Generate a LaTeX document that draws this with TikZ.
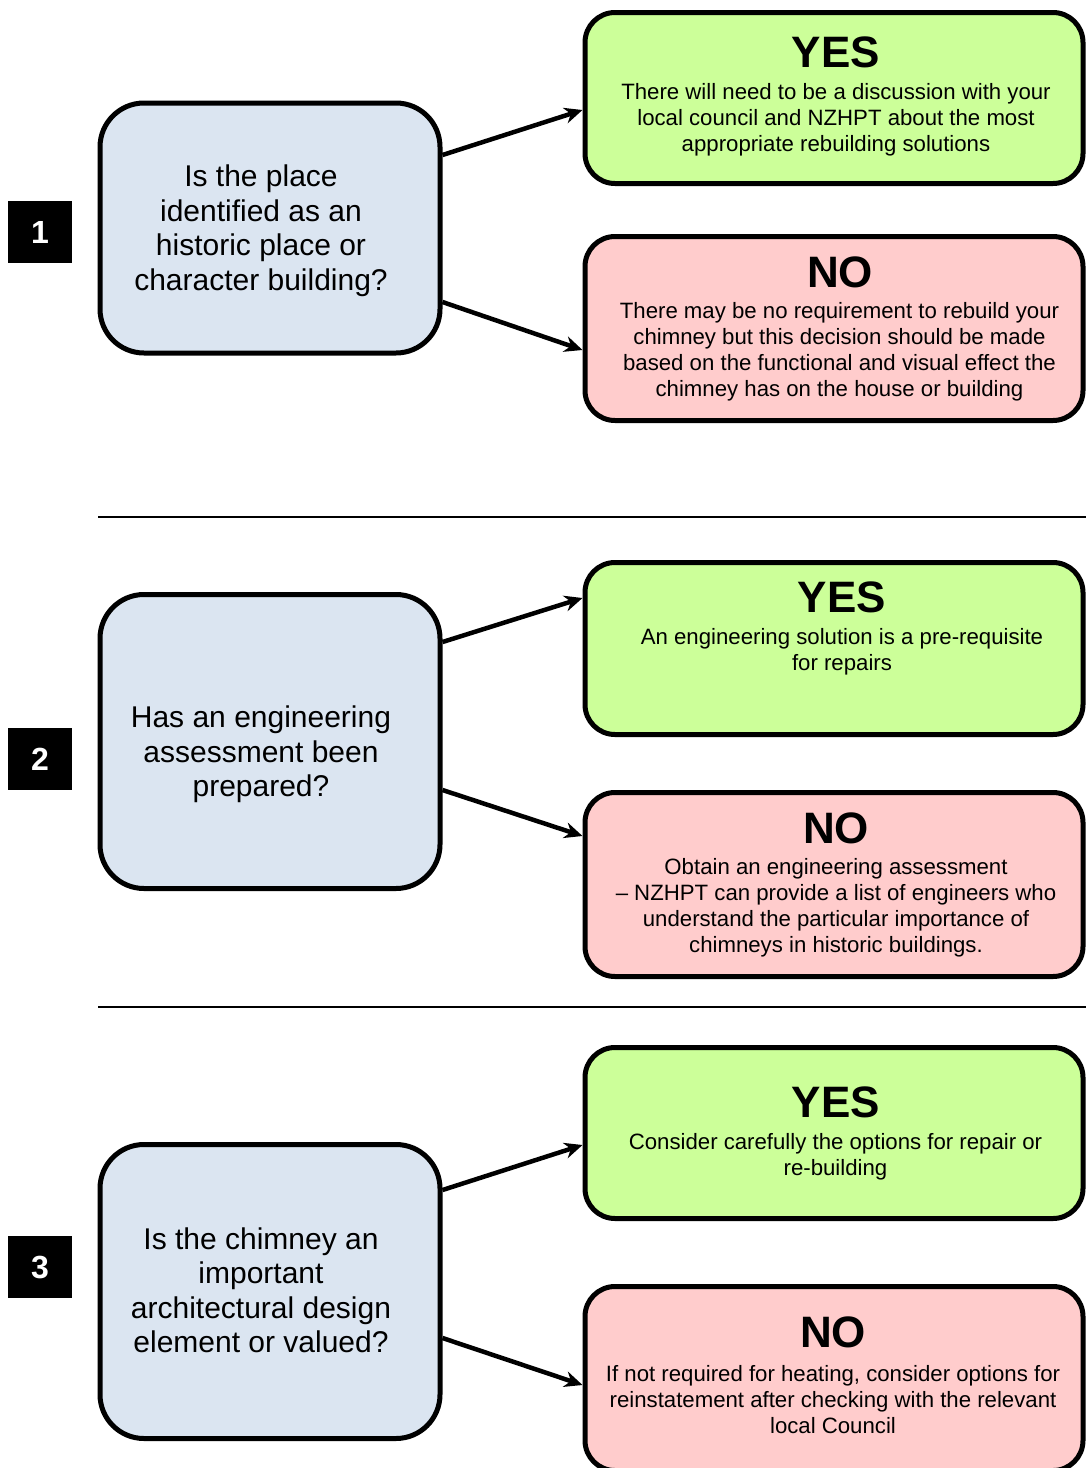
\documentclass[tikz,border=0pt]{standalone}
\usepackage{fontspec}
\setmainfont{Liberation Sans}
\usetikzlibrary{arrows.meta}
\definecolor{qblue}{HTML}{DBE5F1}
\definecolor{yesgreen}{HTML}{CCFF99}
\definecolor{nopink}{HTML}{FFCCCC}
\begin{document}
\begin{tikzpicture}[x=1pt,y=1pt,
  question/.style={draw=black, line width=5pt, fill=qblue, rounded corners=44pt,
    minimum width=340pt, inner sep=0pt},
  answer/.style={draw=black, line width=5pt, rounded corners=30pt,
    minimum width=498pt, inner sep=0pt},
  yesbox/.style={answer, fill=yesgreen},
  nobox/.style={answer, fill=nopink},
  qtext/.style={align=center, font=\fontsize{30}{34.5}\selectfont, inner sep=0pt},
  headline/.style={font=\fontsize{44}{50}\selectfont\bfseries, inner sep=0pt},
  body/.style={align=center, font=\fontsize{22.2}{26}\selectfont, inner sep=0pt},
  numbox/.style={fill=black, minimum width=64pt, minimum height=62pt, text=white,
    font=\fontsize{32}{36}\selectfont\bfseries, inner sep=0pt},
  link/.style={line width=4.5pt, -{Stealth[length=18pt,width=16pt]}},
  rule/.style={line width=1.5pt}
]
\useasboundingbox (0,0) rectangle (1086,-1468);
\clip (0,0) rectangle (1086,-1468);

% section dividers
\draw[rule] (98,-517) -- (1086,-517);
\draw[rule] (98,-1007) -- (1086,-1007);

% ---------- section 1 ----------
\node[numbox] (n1) at (40,-232) {1};
\node[question, minimum height=250pt] (q1) at (270,-228) {};
\node[qtext] (q1t) at (261,-230.5) {Is the place\\identified as an\\historic place or\\character building?};

\node[yesbox, minimum height=171pt] (y1) at (834,-98) {};
\node[headline] (y1h) at (836,-52.5) {YES};
\node[body] (y1b) at (836,-119.5) {There will need to be a discussion with your\\local council and NZHPT about the most\\appropriate rebuilding solutions};

\node[nobox, minimum height=184pt] (no1) at (834,-328.5) {};
\node[headline] (no1h) at (840,-272.5) {NO};
\node[body] (no1b) at (839.5,-351.75) {There may be no requirement to rebuild your\\chimney but this decision should be made\\based on the functional and visual effect the\\chimney has on the house or building};

\draw[link] ([yshift=73pt]q1.east) -- ([yshift=-12pt]y1.west);
\draw[link] ([yshift=-74pt]q1.east) -- ([yshift=-21.5pt]no1.west);

% ---------- section 2 ----------
\node[numbox] (n2) at (40,-759) {2};
\node[question, minimum height=294pt] (q2) at (270,-741.5) {};
\node[qtext] (q2t) at (261,-754.5) {Has an engineering\\assessment been\\prepared?};

\node[yesbox, minimum height=172pt] (y2) at (834,-648.5) {};
\node[headline] (y2h) at (842,-597.5) {YES};
\node[body] (y2b) at (842,-651.5) {An engineering solution is a pre-requisite\\for repairs};

\node[nobox, minimum height=184pt] (no2) at (834,-884.5) {};
\node[headline] (no2h) at (836,-828.5) {NO};
\node[body] (no2b) at (836,-907.5) {Obtain an engineering assessment\\– NZHPT can provide a list of engineers who\\understand the particular importance of\\chimneys in historic buildings.};

\draw[link] ([yshift=99.5pt]q2.east) -- ([yshift=50.5pt]y2.west);
\draw[link] ([yshift=-48.5pt]q2.east) -- ([yshift=48.5pt]no2.west);

% ---------- section 3 ----------
\node[numbox] (n3) at (40,-1267) {3};
\node[question, minimum height=294pt] (q3) at (270,-1291.5) {};
\node[qtext] (q3t) at (261,-1290.5) {Is the chimney an\\important\\architectural design\\element or valued?};

\node[yesbox, minimum height=171pt] (y3) at (834,-1133) {};
\node[headline] (y3h) at (836,-1102.5) {YES};
\node[body] (y3b) at (835.5,-1157) {Consider carefully the options for repair or\\re-building};

\node[nobox, minimum height=184pt] (no3) at (834,-1378.5) {};
\node[headline] (no3h) at (833,-1332.5) {NO};
\node[body] (no3b) at (833,-1399.5) {If not required for heating, consider options for\\reinstatement after checking with the relevant\\local Council};

\draw[link] ([yshift=101.5pt]q3.east) -- ([yshift=-12pt]y3.west);
\draw[link] ([yshift=-46.5pt]q3.east) -- ([yshift=-6.5pt]no3.west);
\end{tikzpicture}
\end{document}
